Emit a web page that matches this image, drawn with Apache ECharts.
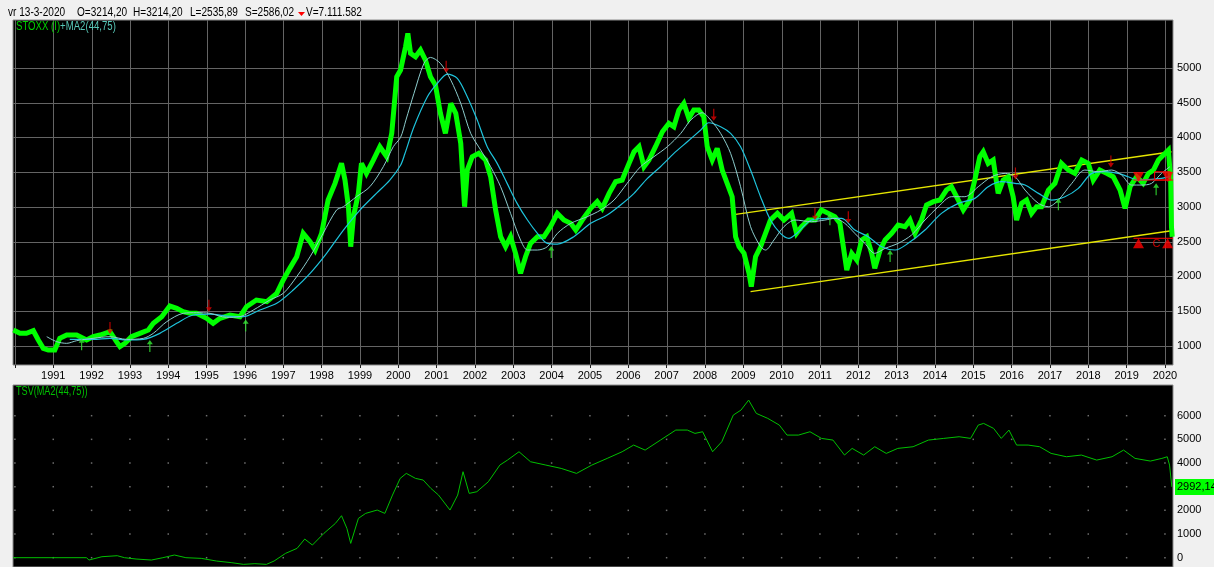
<!DOCTYPE html>
<html><head><meta charset="utf-8">
<script src="https://cdn.jsdelivr.net/npm/echarts@6.0.0/dist/echarts.min.js"></script>
<style>html,body{margin:0;padding:0;background:#f0f0f0;}#c{width:1214px;height:567px;}</style>
</head><body><div id="c"></div>
<script>
// ---------- DATA ----------
const yearTicks = [1990,1991,1992,1993,1994,1995,1996,1997,1998,1999,2000,2001,2002,2003,2004,2005,2006,2007,2008,2009,2010,2011,2012,2013,2014,2015,2016,2017,2018,2019,2020];
const yearLabels = [1991,1992,1993,1994,1995,1996,1997,1998,1999,2000,2001,2002,2003,2004,2005,2006,2007,2008,2009,2010,2011,2012,2013,2014,2015,2016,2017,2018,2019,2020];
const priceTicks = [1000,1500,2000,2500,3000,3500,4000,4500,5000];
const tsvTicks = [0,1000,2000,3000,4000,5000,6000];

const priceYears = [1989.96,1990.13,1990.30,1990.48,1990.61,1990.74,1990.87,1991.04,1991.17,1991.35,1991.61,1991.87,1992.04,1992.22,1992.48,1992.65,1992.74,1992.87,1993.04,1993.26,1993.48,1993.61,1993.83,1994.04,1994.22,1994.39,1994.57,1994.74,1995.00,1995.17,1995.35,1995.61,1995.87,1996.04,1996.30,1996.57,1996.83,1997.00,1997.17,1997.35,1997.52,1997.70,1997.83,1998.00,1998.17,1998.35,1998.52,1998.61,1998.70,1998.76,1998.83,1998.96,1999.04,1999.17,1999.35,1999.52,1999.70,1999.83,1999.96,2000.06,2000.19,2000.25,2000.32,2000.45,2000.58,2000.71,2000.84,2000.97,2001.10,2001.23,2001.37,2001.50,2001.63,2001.73,2001.80,2001.93,2002.10,2002.28,2002.41,2002.54,2002.67,2002.80,2002.93,2003.06,2003.19,2003.32,2003.45,2003.63,2003.80,2003.97,2004.15,2004.32,2004.50,2004.63,2004.80,2005.02,2005.19,2005.32,2005.50,2005.67,2005.84,2006.02,2006.15,2006.28,2006.41,2006.54,2006.71,2006.89,2007.06,2007.19,2007.32,2007.45,2007.58,2007.71,2007.84,2007.97,2008.06,2008.19,2008.32,2008.45,2008.58,2008.71,2008.80,2008.89,2009.02,2009.15,2009.21,2009.32,2009.45,2009.58,2009.71,2009.89,2010.06,2010.26,2010.39,2010.52,2010.70,2010.87,2011.04,2011.22,2011.39,2011.52,2011.61,2011.70,2011.83,2011.96,2012.09,2012.22,2012.35,2012.43,2012.57,2012.70,2012.87,2013.04,2013.22,2013.35,2013.48,2013.65,2013.78,2013.96,2014.13,2014.30,2014.43,2014.61,2014.74,2014.91,2015.04,2015.17,2015.26,2015.39,2015.52,2015.65,2015.78,2015.91,2016.04,2016.13,2016.26,2016.39,2016.52,2016.65,2016.78,2016.96,2017.13,2017.30,2017.48,2017.65,2017.83,2018.00,2018.13,2018.30,2018.48,2018.65,2018.83,2018.96,2019.09,2019.26,2019.43,2019.57,2019.70,2019.83,2019.96,2020.09,2020.15,2020.17,2020.19];
const priceValues = [1226,1178,1178,1216,1082,962,938,938,1106,1154,1154,1082,1130,1154,1202,1058,986,1034,1130,1178,1226,1322,1418,1571,1538,1490,1466,1466,1394,1322,1394,1442,1418,1562,1658,1634,1754,1946,2114,2282,2618,2498,2378,2618,3098,3338,3626,3386,3002,2426,2858,3194,3626,3482,3674,3866,3722,4058,4874,4970,5306,5498,5210,5162,5258,5114,4874,4754,4346,4058,4490,4346,3914,3002,3530,3722,3770,3674,3434,2954,2570,2426,2570,2330,2042,2282,2474,2570,2570,2714,2906,2810,2762,2666,2810,2978,3074,2978,3194,3362,3386,3626,3794,3866,3578,3674,3866,4082,4202,4154,4394,4490,4274,4394,4394,4298,3866,3674,3842,3530,3338,3146,2570,2426,2330,2042,1850,2282,2426,2618,2810,2906,2810,2906,2618,2714,2810,2810,2954,2906,2858,2762,2426,2090,2330,2234,2522,2570,2330,2114,2378,2522,2618,2738,2714,2810,2618,2810,3026,3074,3098,3242,3290,3098,2954,3098,3386,3722,3794,3626,3674,3194,3386,3434,3146,2810,3050,3098,2906,3002,3002,3242,3338,3626,3530,3482,3674,3626,3386,3530,3482,3434,3242,2978,3290,3434,3338,3482,3530,3674,3746,3818,3386,2714,2570];

const ma44Years = [1990.83,1991.09,1991.35,1991.61,1992.04,1992.48,1992.91,1993.35,1993.61,1993.96,1994.39,1994.74,1995.09,1995.52,1995.87,1996.22,1996.65,1997.00,1997.35,1997.70,1998.04,1998.39,1998.57,1998.91,1999.26,1999.61,1999.87,2000.06,2000.20,2000.41,2000.67,2000.84,2001.10,2001.37,2001.63,2001.89,2002.15,2002.41,2002.67,2002.93,2003.19,2003.37,2003.63,2003.89,2004.15,2004.50,2004.93,2005.28,2005.63,2005.97,2006.32,2006.67,2007.02,2007.37,2007.63,2007.93,2008.15,2008.41,2008.67,2008.93,2009.19,2009.45,2009.58,2009.80,2010.06,2010.35,2010.78,2011.13,2011.39,2011.65,2011.91,2012.17,2012.43,2012.70,2013.04,2013.39,2013.74,2014.09,2014.43,2014.78,2015.13,2015.48,2015.83,2016.09,2016.35,2016.70,2016.96,2017.22,2017.57,2017.91,2018.26,2018.61,2018.87,2019.13,2019.39,2019.65,2019.91,2020.13];
const ma44Values = [1130,1058,1034,1072,1106,1130,1091,1106,1178,1346,1466,1475,1466,1408,1418,1514,1658,1754,1994,2282,2618,2954,3002,3146,3290,3578,3866,4000,4250,4634,5066,5152,5066,4826,4490,4058,3818,3578,3290,2906,2522,2378,2378,2426,2618,2762,2858,2954,3098,3338,3578,3722,3866,4058,4250,4355,4250,4058,3770,3290,2714,2426,2378,2522,2714,2810,2786,2810,2834,2762,2618,2474,2330,2402,2474,2594,2810,3002,3146,3146,3290,3434,3482,3434,3242,3050,3002,3098,3338,3530,3506,3530,3458,3314,3314,3338,3482,3578];

const ma75Years = [1991.43,1992.04,1992.48,1992.91,1993.35,1993.78,1994.22,1994.65,1995.09,1995.52,1995.96,1996.39,1996.83,1997.26,1997.70,1998.13,1998.57,1999.00,1999.43,1999.78,2000.06,2000.17,2000.41,2000.76,2001.02,2001.28,2001.54,2001.80,2002.06,2002.32,2002.58,2002.84,2003.10,2003.37,2003.63,2003.89,2004.15,2004.58,2005.02,2005.45,2005.80,2006.15,2006.50,2006.84,2007.19,2007.54,2007.89,2008.10,2008.41,2008.67,2008.93,2009.19,2009.45,2009.71,2009.97,2010.19,2010.40,2010.78,2011.22,2011.57,2011.91,2012.26,2012.61,2012.96,2013.30,2013.74,2014.17,2014.61,2015.04,2015.39,2015.74,2016.09,2016.35,2016.70,2017.04,2017.39,2017.74,2018.09,2018.43,2018.78,2019.04,2019.30,2019.65,2019.91,2020.13];
const ma75Values = [1091,1091,1106,1082,1091,1178,1322,1442,1456,1427,1418,1514,1610,1802,2042,2330,2666,2954,3194,3386,3600,3760,4154,4586,4778,4912,4850,4586,4250,3866,3626,3338,3050,2810,2618,2474,2464,2570,2762,2882,3026,3194,3410,3578,3770,3938,4106,4211,4154,4058,3866,3530,3146,2810,2618,2546,2620,2810,2834,2834,2666,2570,2426,2378,2474,2666,2906,3050,3122,3290,3362,3338,3314,3194,3098,3146,3266,3482,3506,3482,3434,3386,3395,3410,3434];

const tsvYears = [1989.95,1991.87,1991.93,1992.27,1992.67,1992.86,1993.16,1993.56,1993.86,1994.16,1994.46,1994.86,1995.26,1995.66,1995.96,1996.26,1996.56,1996.76,1997.06,1997.36,1997.56,1997.76,1998.06,1998.36,1998.52,1998.66,1998.76,1998.96,1999.15,1999.45,1999.65,1999.85,2000.05,2000.21,2000.45,2000.65,2000.85,2001.05,2001.35,2001.55,2001.69,2001.85,2002.05,2002.35,2002.65,2002.85,2003.15,2003.45,2003.85,2004.25,2004.65,2005.05,2005.45,2005.84,2006.14,2006.44,2006.84,2007.24,2007.54,2007.74,2007.94,2008.20,2008.44,2008.74,2008.94,2009.14,2009.34,2009.64,2009.94,2010.14,2010.44,2010.74,2011.04,2011.34,2011.64,2011.84,2012.14,2012.43,2012.73,2013.03,2013.43,2013.83,2014.23,2014.63,2014.93,2015.13,2015.27,2015.53,2015.73,2015.93,2016.13,2016.43,2016.73,2017.03,2017.43,2017.82,2018.22,2018.62,2018.92,2019.22,2019.62,2019.92,2020.06,2020.12,2020.18];
const tsvValues = [0,0,-99,42,84,0,-56,-99,0,113,0,-28,-141,-211,-282,-253,-282,-141,183,394,788,535,1028,1450,1774,1239,605,1661,1873,2013,1873,2647,3351,3562,3351,3281,2929,2647,2013,2647,3633,2717,2788,3210,3914,4125,4477,4055,3914,3773,3562,3914,4196,4477,4759,4547,4970,5393,5393,5252,5322,4477,4900,6026,6237,6660,6097,5886,5604,5181,5181,5322,5041,4970,4337,4618,4337,4689,4407,4618,4689,4970,5041,5111,5041,5604,5674,5463,5041,5393,4759,4759,4689,4407,4266,4337,4125,4266,4547,4196,4083,4196,4266,3914,2992.14];

const sellArrowYears = [1992.48,1995.06,2001.25,2008.23,2010.87,2011.74,2016.10,2018.59];
const sellArrowValues = [1170,1490,4931,4240,2810,2762,3395,3568];
const buyArrowYears = [1991.74,1993.52,1996.02,2003.99,2011.26,2012.83,2017.22,2019.77];
const buyArrowValues = [1106,1082,1379,2435,2906,2378,3122,3338];

const channelUpperYears = [2008.80,2020.17];
const channelUpperValues = [2891,3794];
const channelLowerYears = [2009.19,2020.17];
const channelLowerValues = [1778,2656];

const signalYears = [2019.31,2020.07];
const signalDownValue = 3430;
const signalUpValue = 2475;
const signalLineYears = [2019.18,2020.21];
const signalUpperLineValue = 3386;
const signalLowerLineValue = 2547;
const signalBoxYears = [2019.73,2020.15];
const signalBoxValues = [3386,3505];
const signalCYear = 2019.78, signalCValue = 2472;

const headerItems = [['vr 13-3-2020',8],['O=3214,20',77],['H=3214,20',133],['L=2535,89',190],['S=2586,02',245],['V=7.111.582',306]];

// ---------- CHART ----------
const FONT = '"Liberation Sans", Arial, sans-serif';
const X_MIN = 1989.95, X_MAX = 2020.21;
const Y1_MIN = 722, Y1_MAX = 5691;
const Y2_MIN = -393, Y2_MAX = 7297;
const GRID_COL = '#646464';
const pair = (xs, ys) => xs.map((x, i) => [x, ys[i]]);

function vLines(yMin, yMax) {
  return function (params, api) {
    const a = api.coord([api.value(0), yMin]);
    const b = api.coord([api.value(0), yMax]);
    const px = Math.round(a[0]) + 0.5;
    return {type: 'line', shape: {x1: px, y1: a[1], x2: px, y2: b[1]}, style: {stroke: GRID_COL, lineWidth: 1}};
  };
}
function hLines(xMin, xMax) {
  return function (params, api) {
    const a = api.coord([xMin, api.value(1)]);
    const b = api.coord([xMax, api.value(1)]);
    const py = Math.round(a[1]) + 0.5;
    return {type: 'line', shape: {x1: a[0], y1: py, x2: b[0], y2: py}, style: {stroke: GRID_COL, lineWidth: 1}};
  };
}

const downArrow = 'path://M2,0 L3,0 L3,7 L5,7 L2.5,11 L0,7 L2,7 Z';
const upArrow = 'path://M2.5,0 L5,4 L3,4 L3,11 L2,11 L2,4 L0,4 Z';

const dots = [];
yearTicks.forEach(y => tsvTicks.forEach(v => dots.push([y, v])));

const chart = echarts.init(document.getElementById('c'));
const option = {
  animation: false,
  backgroundColor: '#f0f0f0',
  textStyle: {fontFamily: FONT},
  grid: [
    {left: 13, right: 41, top: 20, bottom: 202, show: true, backgroundColor: '#000', borderColor: '#8c8c8c', borderWidth: 1, containLabel: false, outerBoundsMode: 'none'},
    {left: 13, right: 41, top: 385, bottom: 0, show: true, backgroundColor: '#000', borderColor: '#8c8c8c', borderWidth: 1, containLabel: false, outerBoundsMode: 'none'}
  ],
  xAxis: [
    {gridIndex: 0, type: 'value', min: X_MIN, max: X_MAX, axisLine: {show: false}, splitLine: {show: false},
     axisTick: {show: true, customValues: yearTicks, length: 3, inside: false, lineStyle: {color: '#202020'}},
     axisLabel: {customValues: yearLabels, formatter: v => String(Math.round(v)), fontSize: 11, color: '#000', margin: 5, fontFamily: FONT}},
    {gridIndex: 1, type: 'value', min: X_MIN, max: X_MAX, axisLine: {show: false}, splitLine: {show: false}, axisTick: {show: false}, axisLabel: {show: false}}
  ],
  yAxis: [
    {gridIndex: 0, type: 'value', position: 'right', min: Y1_MIN, max: Y1_MAX, axisLine: {show: false}, splitLine: {show: false}, axisTick: {show: false},
     axisLabel: {customValues: priceTicks, formatter: v => String(v), fontSize: 11, color: '#000', margin: 4, align: 'left', fontFamily: FONT}},
    {gridIndex: 1, type: 'value', position: 'right', min: Y2_MIN, max: Y2_MAX, axisLine: {show: false}, splitLine: {show: false}, axisTick: {show: false},
     axisLabel: {customValues: tsvTicks, formatter: v => String(v), fontSize: 11, color: '#000', margin: 4, align: 'left', fontFamily: FONT}}
  ],
  series: [
    {type: 'custom', xAxisIndex: 0, yAxisIndex: 0, z: 1, silent: true, renderItem: vLines(Y1_MIN, Y1_MAX), data: yearTicks.map(y => [y, Y1_MIN])},
    {type: 'custom', xAxisIndex: 0, yAxisIndex: 0, z: 1, silent: true, renderItem: hLines(X_MIN, X_MAX), data: priceTicks.map(v => [X_MIN, v])},
    {type: 'scatter', xAxisIndex: 1, yAxisIndex: 1, z: 1, silent: true, symbol: 'rect', symbolSize: 1.5, itemStyle: {color: '#8a8a8a'}, data: dots},
    {type: 'line', name: 'channelU', xAxisIndex: 0, yAxisIndex: 0, z: 2, showSymbol: false, lineStyle: {color: '#e6e600', width: 1.4}, data: pair(channelUpperYears, channelUpperValues)},
    {type: 'line', name: 'channelL', xAxisIndex: 0, yAxisIndex: 0, z: 2, showSymbol: false, lineStyle: {color: '#e6e600', width: 1.4}, data: pair(channelLowerYears, channelLowerValues)},
    {type: 'line', name: 'STOXX', xAxisIndex: 0, yAxisIndex: 0, z: 3, showSymbol: false, lineStyle: {color: '#00ff00', width: 5, join: 'miter', miterLimit: 3}, data: pair(priceYears, priceValues)},
    {type: 'line', name: 'MA75', xAxisIndex: 0, yAxisIndex: 0, z: 4, showSymbol: false, smooth: 0.3, lineStyle: {color: '#1ec4dc', width: 1.2}, data: pair(ma75Years, ma75Values)},
    {type: 'line', name: 'MA44', xAxisIndex: 0, yAxisIndex: 0, z: 4, showSymbol: false, smooth: 0.3, lineStyle: {color: '#8ccccc', width: 1}, data: pair(ma44Years, ma44Values)},
    {type: 'scatter', xAxisIndex: 0, yAxisIndex: 0, z: 5, symbol: downArrow, symbolSize: [6, 12], symbolOffset: [0, '-50%'], itemStyle: {color: '#e00000'}, data: pair(sellArrowYears, sellArrowValues)},
    {type: 'scatter', xAxisIndex: 0, yAxisIndex: 0, z: 5, symbol: upArrow, symbolSize: [6, 12], symbolOffset: [0, '50%'], itemStyle: {color: '#33ee33'}, data: pair(buyArrowYears, buyArrowValues)},
    {type: 'line', xAxisIndex: 0, yAxisIndex: 0, z: 5, showSymbol: false, lineStyle: {color: '#ff0000', width: 1}, data: signalLineYears.map(y => [y, signalUpperLineValue])},
    {type: 'line', xAxisIndex: 0, yAxisIndex: 0, z: 5, showSymbol: false, lineStyle: {color: '#ff0000', width: 1}, data: signalLineYears.map(y => [y, signalLowerLineValue])},
    {type: 'line', xAxisIndex: 0, yAxisIndex: 0, z: 5, showSymbol: false, lineStyle: {color: '#ff0000', width: 1},
     data: [[signalBoxYears[0], signalBoxValues[0]], [signalBoxYears[0], signalBoxValues[1]], [signalBoxYears[1], signalBoxValues[1]], [signalBoxYears[1], signalBoxValues[0]], [signalBoxYears[0], signalBoxValues[0]]]},
    {type: 'scatter', xAxisIndex: 0, yAxisIndex: 0, z: 6, symbol: 'triangle', symbolRotate: 180, symbolSize: [11, 10], itemStyle: {color: '#ff0000'}, data: signalYears.map(y => [y, signalDownValue])},
    {type: 'scatter', xAxisIndex: 0, yAxisIndex: 0, z: 6, symbol: 'triangle', symbolSize: [11, 10], itemStyle: {color: '#ff0000'}, data: signalYears.map(y => [y, signalUpValue])},
    {type: 'scatter', xAxisIndex: 0, yAxisIndex: 0, z: 6, symbolSize: 1, itemStyle: {color: 'rgba(0,0,0,0)'},
     label: {show: true, position: 'inside', formatter: 'C', color: '#ff0000', fontSize: 11, fontFamily: FONT}, data: [[signalCYear, signalCValue]]},
    {type: 'line', name: 'TSV', xAxisIndex: 1, yAxisIndex: 1, z: 3, showSymbol: false, lineStyle: {color: '#00c000', width: 1}, data: pair(tsvYears, tsvValues)}
  ],
  graphic: []
};
chart.setOption(option);

// header texts, panel titles and last-value tag
const g = [];
headerItems.forEach(([t, x]) => g.push({type: 'text', x: x, y: 12.5, scaleX: 0.84, z: 100, style: {text: t, fill: '#000', font: '12px ' + FONT, textVerticalAlign: 'middle'}}));
g.push({type: 'polygon', z: 100, shape: {points: [[298, 12], [305, 12], [301.5, 16]]}, style: {fill: '#ff0000'}});
g.push({type: 'text', x: 16, y: 27, scaleX: 0.8, z: 100, style: {text: '{a|STOXX (I)}{b|+MA2(44,75)}', font: '12px ' + FONT, textVerticalAlign: 'middle', rich: {a: {fill: '#00d000', font: '12px ' + FONT}, b: {fill: '#58c8b8', font: '12px ' + FONT}}}});
g.push({type: 'text', x: 16, y: 392, scaleX: 0.76, z: 100, style: {text: 'TSV(MA2(44,75))', fill: '#00c000', font: '12px ' + FONT, textVerticalAlign: 'middle'}});
const lastV = tsvValues[tsvValues.length - 1];
const lastP = chart.convertToPixel({xAxisIndex: 1, yAxisIndex: 1}, [tsvYears[tsvYears.length - 1], lastV]);
g.push({type: 'rect', z: 100, shape: {x: 1175, y: Math.round(lastP[1]) - 8, width: 40, height: 16}, style: {fill: '#00ff00'}});
g.push({type: 'text', z: 101, x: 1177, y: Math.round(lastP[1]), style: {text: lastV.toFixed(2).replace('.', ','), fill: '#000', font: '11px ' + FONT, textVerticalAlign: 'middle'}});
chart.setOption({graphic: g});
</script>
</body></html>
